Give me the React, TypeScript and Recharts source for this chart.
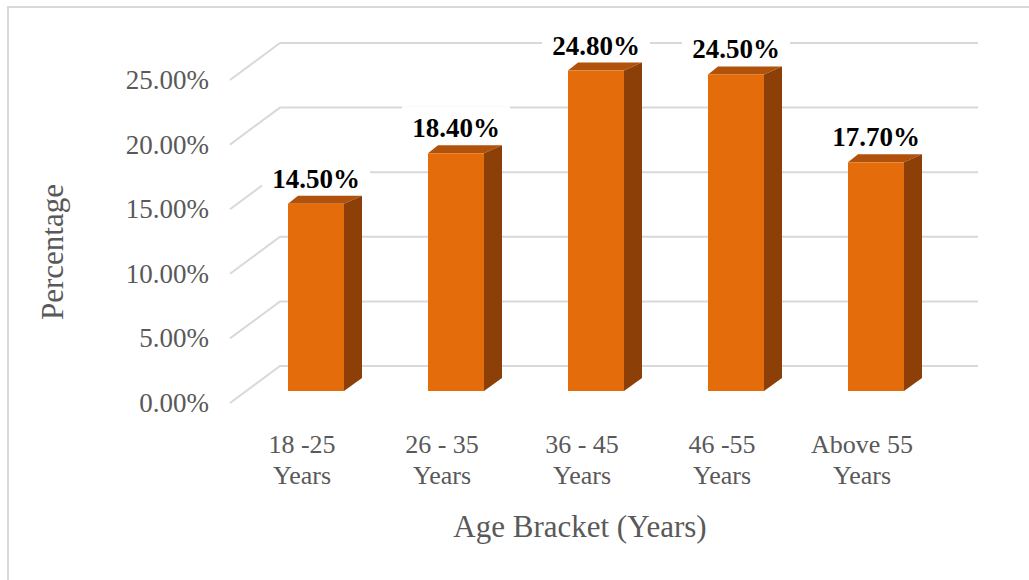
import React from 'react';
import { BarChart, Bar, XAxis, YAxis, CartesianGrid, LabelList } from 'recharts';

// Share of respondents by age bracket (percent)
const ageBrackets: string[] = ['18 -25 Years', '26 - 35 Years', '36 - 45 Years', '46 -55 Years', 'Above 55 Years'];
const percentages: number[] = [14.5, 18.4, 24.8, 24.5, 17.7];
const yTicks: number[] = [0, 5, 10, 15, 20, 25];

const data = ageBrackets.map((label, i) => ({ label, value: percentages[i] }));

const FONT = '"Liberation Serif", "Times New Roman", serif';
const TEXT_GREY = '#595959';
const GRID = '#d9d9d9';

// 3D look: the bar front sits slightly behind the value-axis plane,
// and the back wall is pushed further back.
const BAR_SHIFT_X = 14;
const BAR_SHIFT_Y = -12;
const WALL_DX = 48;
const WALL_DY = -37;

const fmt = (v: number) => `${v.toFixed(2)}%`;

const Column3D = (props: any) => {
  const { x, y, width, height } = props;
  if (width == null || height == null) return null;
  const fx = x + BAR_SHIFT_X;
  const fy = y + BAR_SHIFT_Y;
  const fb = y + height + BAR_SHIFT_Y;
  const fr = fx + width;
  return (
    <g>
      <polygon
        points={`${fx},${fy} ${fr},${fy} ${fr + 18},${fy - 8} ${fx + 10},${fy - 8}`}
        fill="#B0520B"
      />
      <polygon
        points={`${fr},${fy} ${fr + 18},${fy - 8} ${fr + 18},${fb - 13} ${fr},${fb}`}
        fill="#8C3F07"
      />
      <rect x={fx} y={fy} width={width} height={fb - fy} fill="#E46C0A" />
    </g>
  );
};

const ValueLabel = (props: any) => {
  const { x, y, width, value } = props;
  if (value == null) return null;
  const cx = x + BAR_SHIFT_X + width / 2;
  const cy = y + BAR_SHIFT_Y - 25;
  const text = fmt(Number(value));
  const boxW = 108;
  return (
    <g>
      <rect x={cx - boxW / 2} y={cy - 22} width={boxW} height={36} fill="#ffffff" />
      <text
        x={cx}
        y={cy}
        textAnchor="middle"
        dominantBaseline="central"
        fontFamily={FONT}
        fontWeight="bold"
        fontSize={27}
        fill="#000000"
      >
        {text}
      </text>
    </g>
  );
};

const WallLine = (props: any) => {
  const { x1, y1, x2 } = props;
  const d = `M ${x1 - 2} ${y1} L ${x1 + WALL_DX} ${y1 + WALL_DY} L ${x2 + WALL_DX - 2} ${y1 + WALL_DY}`;
  return <path key={`wall-${y1}`} d={d} stroke={GRID} strokeWidth={2} fill="none" />;
};

const YTick = (props: any) => {
  const { y, payload } = props;
  return (
    <text
      x={209}
      y={y}
      textAnchor="end"
      dominantBaseline="central"
      fontFamily={FONT}
      fontSize={27}
      fill={TEXT_GREY}
    >
      {fmt(Number(payload.value))}
    </text>
  );
};

const XTick = (props: any) => {
  const { x, payload } = props;
  const s: string = String(payload.value);
  const cut = s.lastIndexOf(' ');
  const first = s.slice(0, cut);
  const second = s.slice(cut + 1);
  return (
    <g>
      <text x={x} y={444} textAnchor="middle" dominantBaseline="central" fontFamily={FONT} fontSize={26} fill={TEXT_GREY}>
        {first}
      </text>
      <text x={x} y={475} textAnchor="middle" dominantBaseline="central" fontFamily={FONT} fontSize={26} fill={TEXT_GREY}>
        {second}
      </text>
    </g>
  );
};

export default function App() {
  return (
    <div style={{ position: 'absolute', left: 0, top: 0, width: 1029, height: 580, background: '#ffffff', overflow: 'hidden' }}>
      <BarChart
        width={1029}
        height={580}
        data={data}
        margin={{ top: 80, right: 97, bottom: 117, left: 112 }}
      >
        <CartesianGrid vertical={false} horizontal={WallLine as any} />
        <XAxis
          dataKey="label"
          interval={0}
          height={60}
          axisLine={false}
          tickLine={false}
          tick={<XTick />}
        />
        <YAxis
          width={120}
          domain={[0, 25]}
          ticks={yTicks}
          interval={0}
          axisLine={false}
          tickLine={false}
          tick={<YTick />}
        />
        <Bar dataKey="value" barSize={56} shape={<Column3D />} isAnimationActive={false}>
          <LabelList dataKey="value" content={<ValueLabel />} />
        </Bar>
      </BarChart>
      <svg
        width={1029}
        height={580}
        style={{ position: 'absolute', left: 0, top: 0, pointerEvents: 'none' }}
      >
        <path d="M 8 580 V 7 H 1029" stroke="#d9d9d9" strokeWidth={2} fill="none" />
        <text
          x={52}
          y={252}
          transform="rotate(-90 52 252)"
          textAnchor="middle"
          dominantBaseline="central"
          fontFamily={FONT}
          fontSize={31}
          fill={TEXT_GREY}
        >
          Percentage
        </text>
        <text
          x={580}
          y={526}
          textAnchor="middle"
          dominantBaseline="central"
          fontFamily={FONT}
          fontSize={31}
          fill={TEXT_GREY}
        >
          Age Bracket (Years)
        </text>
      </svg>
    </div>
  );
}
